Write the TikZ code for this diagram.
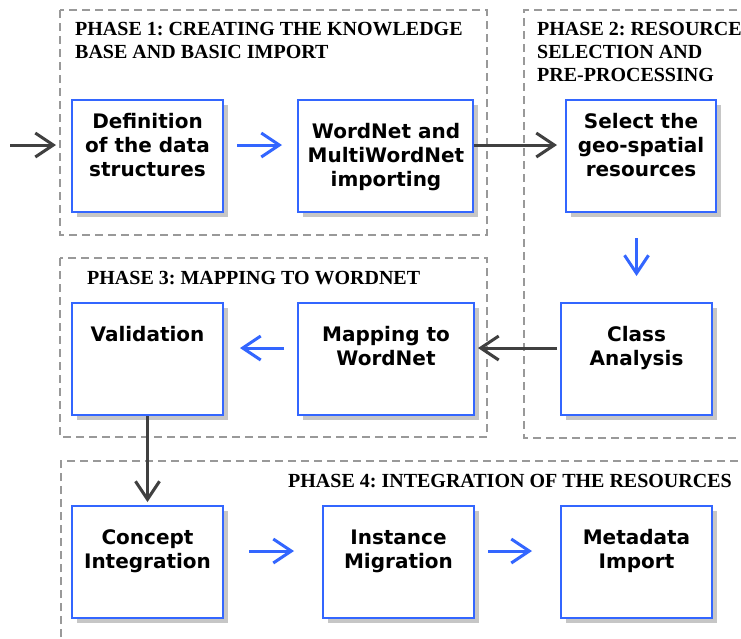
\documentclass[tikz,border=0pt]{standalone}
\usepackage{fontspec}
\setmainfont{Liberation Serif}
\newfontfamily\boxfont{DejaVu Sans}
\usetikzlibrary{arrows.meta,shadows,calc}
\definecolor{boxblue}{HTML}{3366FF}
\definecolor{darkarr}{HTML}{404040}
\definecolor{dashgray}{HTML}{999999}
\frenchspacing
\begin{document}
\begin{tikzpicture}[x=1pt,y=-1pt,
  phase/.style={draw=dashgray, line width=2pt, dash pattern=on 8pt off 5pt},
  phasetitle/.style={anchor=north west, inner sep=0pt, align=left, font=\bfseries\fontsize{20}{23}\selectfont},
  box/.style={draw=boxblue, line width=2pt, fill=white, minimum width=151pt, minimum height=112pt, inner sep=0pt,
    drop shadow={shadow xshift=5pt, shadow yshift=-5pt, fill=gray!45, opacity=1}},
  boxtext/.style={anchor=north, inner sep=0pt, align=center, font=\boxfont\bfseries\fontsize{20}{24}\selectfont},
  darrow/.style={draw=darkarr, line width=3pt, -{Straight Barb[length=18pt,width=24pt]}},
  barrow/.style={draw=boxblue, line width=3pt, -{Straight Barb[length=18pt,width=24pt]}},
]
\useasboundingbox (0,0) rectangle (741,638);
\fill[white] (0,0) rectangle (741,638);

% phase frames
\draw[phase] (60,10) rectangle (487,235);
\draw[phase] (750,10) -- (524,10) -- (524,438) -- (750,438);
\draw[phase] (60,258) rectangle (487,437);
\draw[phase] (61,650) -- (61,461) -- (750,461);

% titles
\node[phasetitle] (p1) at (75,19) {\rule{0pt}{16pt}PHASE 1: CREATING THE KNOWLEDGE\\BASE AND BASIC IMPORT};
\node[phasetitle] (p2) at (537,19) {\rule{0pt}{16pt}PHASE 2: RESOURCE\\SELECTION AND\\PRE-PROCESSING};
\node[phasetitle] (p3) at (87,268) {\rule{0pt}{16pt}PHASE 3: MAPPING TO WORDNET};
\node[phasetitle] (p4) at (288,471) {\rule{0pt}{16pt}PHASE 4: INTEGRATION OF THE RESOURCES};

% boxes
\node[box] (b1) at (147.5,156) {};
\node[box, minimum width=175pt] (b2) at (385.5,156) {};
\node[box, minimum width=150pt] (b3) at (641,156) {};
\node[box] (cls) at (636.5,359) {};
\node[box] (val) at (147.5,359) {};
\node[box, minimum width=176pt] (map) at (386,359) {};
\node[box] (conc) at (147.5,562) {};
\node[box] (inst) at (398.5,562) {};
\node[box] (meta) at (636.5,562) {};

% box texts
\node[boxtext] (t1) at (147.5,112) {\rule{0pt}{16pt}Definition\\of the data\\structures};
\node[boxtext] (t2) at (386,122) {\rule{0pt}{16pt}WordNet and\\MultiWordNet\\importing};
\node[boxtext] (t3) at (641,112) {\rule{0pt}{16pt}Select the\\geo-spatial\\resources};
\node[boxtext] (t4) at (636.5,325) {\rule{0pt}{16pt}Class\\Analysis};
\node[boxtext] (t5) at (147.5,325) {\rule{0pt}{16pt}Validation};
\node[boxtext] (t6) at (386,325) {\rule{0pt}{16pt}Mapping to\\WordNet};
\node[boxtext] (t7) at (147.5,528) {\rule{0pt}{16pt}Concept\\Integration};
\node[boxtext] (t8) at (398.5,528) {\rule{0pt}{16pt}Instance\\Migration};
\node[boxtext] (t9) at (636.5,528) {\rule{0pt}{16pt}Metadata\\Import};

% connectors
\coordinate (start) at (10,145);
\draw[darrow, shorten >=15pt] (start) -- ([yshift=11pt]b1.west);
\draw[barrow, shorten <=13pt, shorten >=15pt] ([yshift=11pt]b1.east) -- ([yshift=11pt]b2.west);
\draw[darrow, shorten >=8pt] ([yshift=11pt]b2.east) -- ([yshift=11pt]b3.west);
\draw[barrow, shorten <=25pt, shorten >=26pt] (b3.south -| cls.north) -- (cls.north);
\draw[darrow, shorten <=3pt, shorten >=3pt] ([yshift=11pt]cls.west) -- ([yshift=11pt]map.east);
\draw[barrow, shorten <=13pt, shorten >=16pt] ([yshift=11pt]map.west) -- ([yshift=11pt]val.east);
\draw[darrow, shorten >=3pt] (val.south) -- (conc.north);
\draw[barrow, shorten <=25pt, shorten >=28pt] ([yshift=11pt]conc.east) -- ([yshift=11pt]inst.west);
\draw[barrow, shorten <=13pt, shorten >=28pt] ([yshift=11pt]inst.east) -- ([yshift=11pt]meta.west);
\end{tikzpicture}
\end{document}
